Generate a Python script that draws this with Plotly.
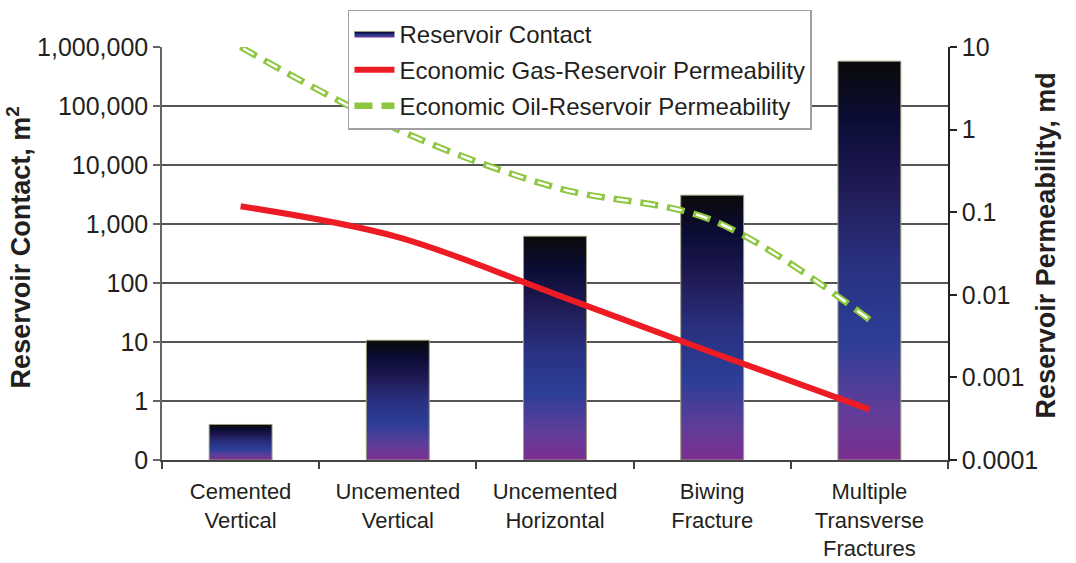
import plotly.graph_objects as go

# ---- data ----
categories = ["Cemented<br>Vertical", "Uncemented<br>Vertical", "Uncemented<br>Horizontal",
              "Biwing<br>Fracture", "Multiple<br>Transverse<br>Fractures"]
reservoir_contact = [0.4, 10.7, 620, 3080, 575000]          # m^2
gas_permeability = [0.118, 0.050, 0.0102, 0.0020, 0.00041]  # md
oil_permeability = [10, 1.0, 0.2, 0.08, 0.005]              # md

left_tickvals = [0.1, 1, 10, 100, 1000, 10000, 100000, 1000000]
left_ticktext = ["0", "1", "10", "100", "1,000", "10,000", "100,000", "1,000,000"]
right_tickvals = [0.0001, 0.001, 0.01, 0.1, 1, 10]
right_ticktext = ["0.0001", "0.001", "0.01", "0.1", "1", "10"]

AXIS_FLOOR = 0.1      # bottom of the contact axis (labelled "0")
BAR_HALF = 0.2        # half bar width in category units
FONT = "Liberation Sans, Arial, sans-serif"
TXT = "#231f20"

bar_scale = [[0.0, "#7b2e90"], [0.12, "#613d99"], [0.3, "#2c3e96"], [0.5, "#29307f"],
             [0.68, "#201b55"], [0.85, "#0b0c36"], [1.0, "#0a0a0a"]]

xs = list(range(len(categories)))
fig = go.Figure()

# gradient-filled bars (one closed polygon per category)
for i, (xc, v) in enumerate(zip(xs, reservoir_contact)):
    fig.add_trace(go.Scatter(
        x=[xc - BAR_HALF, xc + BAR_HALF, xc + BAR_HALF, xc - BAR_HALF, xc - BAR_HALF],
        y=[AXIS_FLOOR, AXIS_FLOOR, v, v, AXIS_FLOOR],
        mode="lines", fill="toself",
        fillgradient=dict(type="vertical", colorscale=bar_scale),
        line=dict(color="#9b9b7e", width=1),
        name="Reservoir Contact", legendgroup="rc", showlegend=(i == 0),
        hoverinfo="skip", yaxis="y",
    ))

fig.add_trace(go.Scatter(
    x=xs, y=gas_permeability, mode="lines", yaxis="y2",
    line=dict(color="#ed1c24", width=6, shape="spline", smoothing=1),
    name="Economic Gas-Reservoir Permeability", legendgroup="gas",
))

fig.add_trace(go.Scatter(
    x=xs, y=oil_permeability, mode="lines", yaxis="y2",
    line=dict(color="#8dc63f", width=6.5, shape="spline", smoothing=1, dash="18px,9px"),
    name="Economic Oil-Reservoir Permeability", legendgroup="oil",
))
# white core gives the dashes a hollow look
fig.add_trace(go.Scatter(
    x=xs, y=oil_permeability, mode="lines", yaxis="y2",
    line=dict(color="white", width=2.5, shape="spline", smoothing=1, dash="0px,3px,12px,12px"),
    showlegend=False, hoverinfo="skip", legendgroup="oil",
))

fig.update_layout(
    width=1076, height=563,
    margin=dict(l=162, r=128, t=47, b=103, autoexpand=False),
    plot_bgcolor="white", paper_bgcolor="white",
    font=dict(family=FONT, size=24, color=TXT),
    showlegend=True,
    legend=dict(
        x=0.2366, y=1.09, xanchor="left", yanchor="top",
        bgcolor="white", bordercolor="#a0a0a0", borderwidth=1.5,
        font=dict(family=FONT, size=24, color=TXT),
        itemwidth=40, traceorder="grouped", tracegroupgap=2,
    ),
    xaxis=dict(
        range=[-0.5, 4.5], tickvals=xs, ticktext=categories, automargin=False,
        ticks="", showgrid=False, zeroline=False,
        showline=True, linecolor="#444", linewidth=1.5,
        tickfont=dict(size=22, color=TXT), ticklabelstandoff=11,
        minor=dict(tickvals=[-0.5, 0.5, 1.5, 2.5, 3.5, 4.5], ticks="outside",
                   ticklen=7, tickcolor="#444", tickwidth=1.5, showgrid=False),
    ),
    yaxis=dict(
        type="log", range=[-1, 6], tickvals=left_tickvals, ticktext=left_ticktext,
        automargin=False,
        showgrid=True, gridcolor="#555555", gridwidth=1.5,
        showline=True, linecolor="#666", linewidth=1.5,
        ticks="outside", ticklen=7, tickcolor="#666", tickwidth=1.5,
        tickfont=dict(size=25, color=TXT), zeroline=False,
    ),
    yaxis2=dict(
        type="log", range=[-4, 1], overlaying="y", side="right", automargin=False,
        tickvals=right_tickvals, ticktext=right_ticktext,
        showgrid=False, showline=True, linecolor="#222", linewidth=1.5,
        ticks="outside", ticklen=7, tickcolor="#222", tickwidth=1.5,
        tickfont=dict(size=25, color=TXT), zeroline=False,
    ),
    annotations=[
        dict(text="Reservoir Contact, m<sup>2</sup>", xref="paper", yref="paper",
             x=-0.206, y=0.515, textangle=-90, showarrow=False,
             font=dict(family=FONT, size=27, color=TXT, weight="bold")),
        dict(text="Reservoir Permeability, md", xref="paper", yref="paper",
             x=1.1465, y=0.52, textangle=-90, showarrow=False,
             font=dict(family=FONT, size=27, color=TXT, weight="bold")),
    ],
)

fig.write_html("out.html")
